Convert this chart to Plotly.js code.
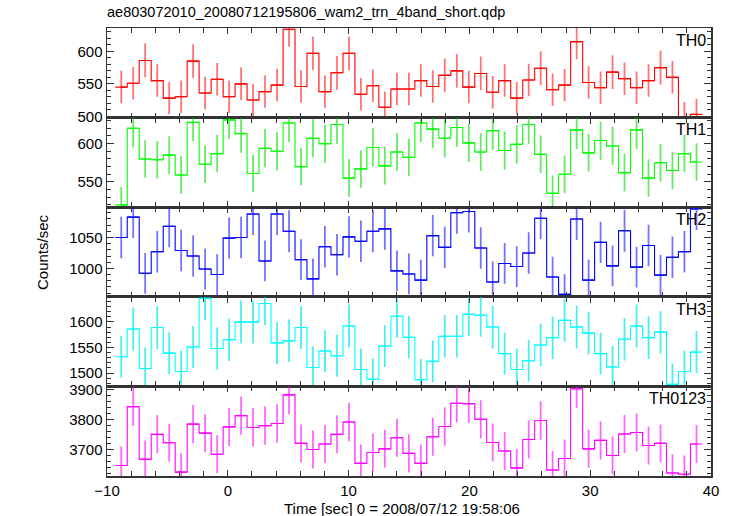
<!DOCTYPE html>
<html><head><meta charset="utf-8">
<script src="https://cdn.plot.ly/plotly-3.0.1.min.js"></script>
<style>html,body{margin:0;padding:0;background:#fff}#chart{width:729px;height:516px}</style>
</head><body><div id="chart"></div>
<script>
const chartTitle = "ae803072010_20080712195806_wam2_trn_4band_short.qdp";
const xTitle = "Time [sec] 0 = 2008/07/12 19:58:06";
const yTitle = "Counts/sec";
const bandNames = ["TH0", "TH1", "TH2", "TH3", "TH0123"];
const bandColors = ["#ff0000", "#00ff00", "#0000ff", "#00ffff", "#ff00ff"];
const errColors = ["rgba(255,0,0,0.55)", "rgba(0,220,0,0.6)", "rgba(0,0,255,0.55)", "rgba(0,230,230,0.7)", "rgba(255,0,255,0.6)"];

const timeSec = [-8.82, -7.83, -6.84, -5.84, -4.85, -3.86, -2.87, -1.88, -0.88, 0.11,
  1.10, 2.09, 3.08, 4.08, 5.07, 6.06, 7.05, 8.04, 9.04, 10.03,
  11.02, 12.01, 13.00, 14.00, 14.99, 15.98, 16.97, 17.96, 18.96, 19.95,
  20.94, 21.93, 22.92, 23.92, 24.91, 25.90, 26.89, 27.88, 28.88, 29.87,
  30.86, 31.85, 32.84, 33.84, 34.83, 35.82, 36.81, 37.80, 38.80];

const th0 = [545, 551, 586, 555, 528, 530, 585, 536, 557, 530,
  550, 525, 538, 548, 634, 546, 597, 538, 567, 597,
  534, 547, 514, 542, 542, 555, 546, 563, 570, 545,
  566, 537, 555, 528, 556, 574, 541, 548, 615, 552,
  544, 568, 558, 544, 555, 575, 560, 498, 503];
const th0Err = [25, 25, 26, 25, 25, 25, 26, 25, 25, 25,
  25, 25, 25, 25, 27, 25, 26, 25, 26, 26,
  25, 25, 24, 25, 25, 25, 25, 26, 26, 25,
  26, 25, 25, 25, 25, 26, 25, 25, 27, 25,
  25, 26, 25, 25, 25, 26, 25, 24, 24];

const th1 = [520, 620, 580, 579, 585, 559, 628, 573, 587, 631,
  613, 561, 594, 590, 627, 570, 607, 600, 625, 555,
  567, 595, 571, 589, 582, 627, 619, 607, 621, 601,
  589, 617, 591, 599, 625, 586, 535, 560, 618, 588,
  604, 597, 562, 618, 555, 575, 565, 587, 576];
const th1Err = [23.5, 25, 24.5, 24.5, 24.5, 24.5, 25, 24.5, 24.5, 25,
  25, 24.5, 25, 25, 25, 24.5, 25, 25, 25, 24.5,
  24.5, 25, 24.5, 24.5, 24.5, 25, 25, 25, 25, 25,
  24.5, 25, 25, 25, 25, 24.5, 23.5, 24.5, 25, 24.5,
  25, 25, 24.5, 25, 24.5, 24.5, 24.5, 24.5, 24.5];

const th2 = [1050, 1083, 992, 1027, 1068, 1029, 1020, 999, 990, 1049,
  1050, 1088, 1012, 1088, 1060, 1014, 983, 1035, 1022, 1051,
  1044, 1060, 1064, 996, 991, 981, 1053, 1034, 1090, 1092,
  1033, 978, 1008, 1003, 1025, 1081, 986, 958, 1080, 981,
  1042, 1004, 1061, 1002, 1037, 989, 1018, 1027, 1096];
const th2Err = [33.5, 34, 33, 33.5, 34, 33.5, 33.5, 33, 33, 33.5,
  33.5, 34, 33, 34, 34, 33, 33, 33.5, 33.5, 33.5,
  33.5, 34, 34, 33, 33, 33, 33.5, 33.5, 34, 34,
  33.5, 33, 33, 33, 33.5, 34, 33, 32.5, 34, 33,
  33.5, 33, 34, 33, 33.5, 33, 33.5, 33.5, 34];

const th3 = [1532, 1586, 1509, 1589, 1539, 1503, 1551, 1646, 1548, 1565,
  1600, 1600, 1636, 1559, 1563, 1589, 1511, 1543, 1534, 1592,
  1507, 1488, 1553, 1611, 1570, 1487, 1523, 1572, 1572, 1615,
  1613, 1590, 1538, 1507, 1524, 1555, 1569, 1603, 1590, 1578,
  1538, 1512, 1566, 1592, 1569, 1580, 1478, 1503, 1541];
const th3Err = [41, 42, 41, 42, 41, 40.5, 41, 42.5, 41, 41.5,
  42, 42, 42.5, 41.5, 41.5, 42, 41, 41, 41, 42,
  41, 40.5, 41, 42, 41.5, 40.5, 41, 41.5, 41.5, 42,
  42, 42, 41, 41, 41, 41.5, 41.5, 42, 42, 41.5,
  41, 41, 41.5, 42, 41.5, 41.5, 40.5, 40.5, 41];

const th0123 = [3648, 3843, 3668, 3751, 3723, 3626, 3785, 3755, 3685, 3776,
  3813, 3774, 3780, 3787, 3882, 3721, 3701, 3719, 3751, 3792,
  3655, 3691, 3703, 3740, 3688, 3655, 3743, 3777, 3854, 3853,
  3801, 3724, 3696, 3640, 3734, 3797, 3633, 3671, 3902, 3703,
  3731, 3681, 3752, 3757, 3714, 3721, 3623, 3619, 3719];
const th0123Err = [62.5, 64, 63, 63, 63, 62, 63.5, 63, 63, 63.5,
  63.5, 63.5, 63.5, 63.5, 64, 63, 63, 63, 63, 63.5,
  62.5, 63, 63, 63, 63, 62.5, 63, 63.5, 64, 64,
  63.5, 63, 63, 62.5, 63, 63.5, 62.5, 63, 64, 63,
  63, 63, 63, 63, 63, 63, 62, 62, 63];

const bandValues = [th0, th1, th2, th3, th0123];
const bandErrors = [th0Err, th1Err, th2Err, th3Err, th0123Err];
const yRanges = [[498, 636], [517, 634], [954, 1099], [1474, 1649], [3613, 3910]];
const yDticks = [50, 50, 50, 50, 100];
const yMinor = [10, 10, 10, 10, 20];
const halfBin = 0.496;

const fontFam = "Liberation Sans, Arial, Helvetica, sans-serif";
const traces = [];
const layout = {
  width: 729, height: 516,
  margin: {l: 107, r: 18, t: 28, b: 40},
  paper_bgcolor: "#fff", plot_bgcolor: "#fff",
  showlegend: false,
  font: {family: fontFam, size: 15, color: "#000"},
  title: {text: chartTitle, x: 107/729, xanchor: "left", xref: "container", y: 1 - 12/516, yanchor: "middle", font: {size: 14.5, family: fontFam}},
  annotations: []
};
const n = bandNames.length;
for (let i = 0; i < n; i++) {
  const sfx = i === 0 ? "" : String(i + 1);
  traces.push({
    type: "scatter", mode: "lines",
    x: timeSec, y: bandValues[i],
    xaxis: "x" + sfx, yaxis: "y" + sfx,
    line: {shape: "hvh", color: bandColors[i], width: 1.1},
    error_y: {type: "data", array: bandErrors[i], visible: true, color: errColors[i], thickness: 1.8, width: 0},
    error_x: {type: "constant", value: halfBin, visible: true, color: bandColors[i], thickness: 1.1, width: 0},
    hoverinfo: "skip"
  });
  const top = 1 - i / n, bot = 1 - (i + 1) / n;
  layout["xaxis" + sfx] = {
    range: [-10, 40], anchor: "y" + sfx, domain: [0, 1],
    dtick: 10, tick0: 0, ticks: "inside", ticklen: 6, tickcolor: "#333", tickwidth: 1,
    minor: {dtick: 2, ticklen: 5, ticks: "inside", tickcolor: "#333"},
    showline: true, linecolor: "#333", linewidth: 1.5, mirror: "allticks",
    showgrid: false, zeroline: false,
    showticklabels: i === n - 1,
    tickfont: {size: 15, family: fontFam}
  };
  layout["yaxis" + sfx] = {
    range: yRanges[i], anchor: "x" + sfx, domain: [bot, top],
    dtick: yDticks[i], ticks: "inside", ticklen: 7, tickcolor: "#333",
    minor: {dtick: yMinor[i], ticklen: 4, ticks: "inside", tickcolor: "#333"},
    showline: true, linecolor: "#333", linewidth: 1.5, mirror: "allticks",
    showgrid: false, zeroline: false,
    tickfont: {size: 15, family: fontFam}
  };
  layout.annotations.push({
    text: bandNames[i], xref: "x" + sfx + " domain", yref: "y" + sfx + " domain",
    x: 0.995, y: 0.98, xanchor: "right", yanchor: "top", showarrow: false,
    font: {size: 16, family: fontFam, color: "#000"}
  });
}
layout.annotations.push({
  text: yTitle, xref: "paper", yref: "paper", x: (42 - 107) / 604, y: 0.5,
  xanchor: "center", yanchor: "middle", textangle: -90, showarrow: false,
  font: {size: 15, family: fontFam}
});
layout.annotations.push({
  text: xTitle, xref: "paper", yref: "paper", x: (402 - 107) / 604, y: -(508 - 476) / 448,
  xanchor: "center", yanchor: "middle", showarrow: false,
  font: {size: 15, family: fontFam}
});
Plotly.newPlot("chart", traces, layout, {displayModeBar: false, staticPlot: true});
</script></body></html>
